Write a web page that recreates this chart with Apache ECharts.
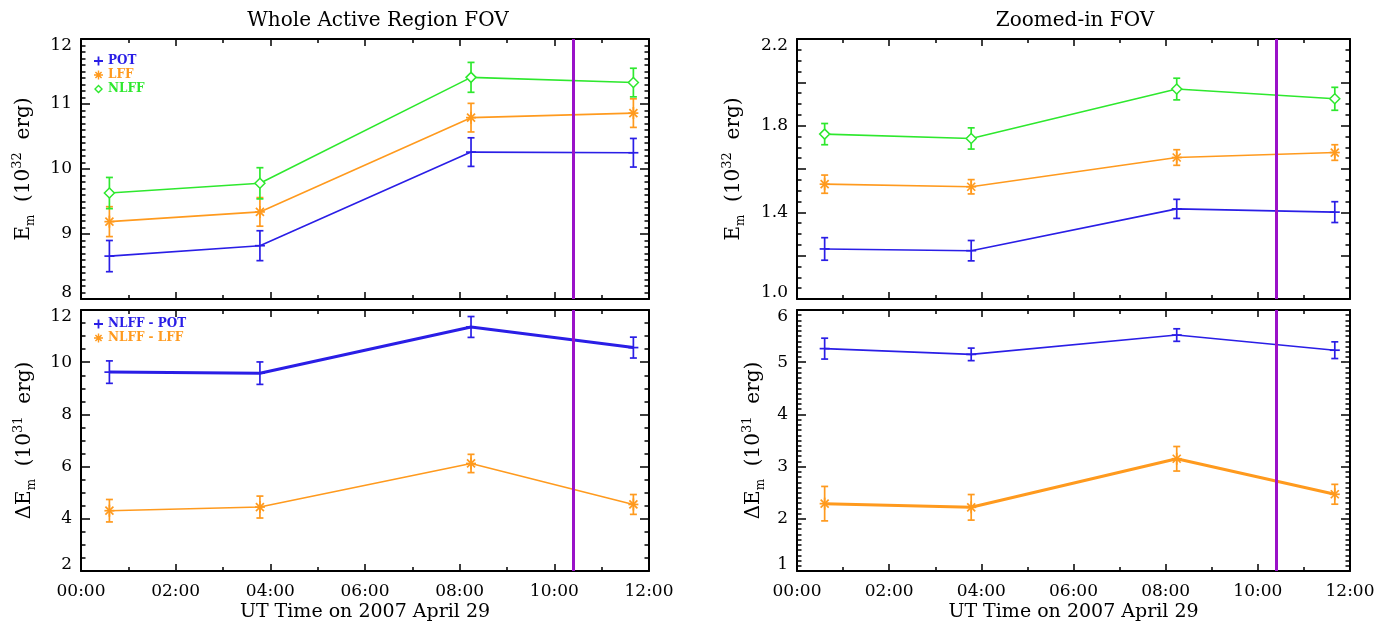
<!DOCTYPE html>
<html><head><meta charset="utf-8">
<script src="https://cdn.jsdelivr.net/npm/echarts@6/dist/echarts.min.js"></script>
<style>html,body{margin:0;padding:0;background:#fff}#c{width:1386px;height:623px}</style>
</head><body><div id="c"></div>
<script>
// ---- data ----
const times = [0.6, 3.78, 8.24, 11.67];          // hours UT
const flareTime = 10.41;                          // purple marker
const timeTicks = ['00:00','02:00','04:00','06:00','08:00','10:00','12:00'];

// Whole active region, 10^32 erg
const wholePot = [8.66, 8.82, 10.26, 10.25];
const wholePotErr = [0.24, 0.23, 0.22, 0.22];
const wholeLff = [9.19, 9.34, 10.79, 10.86];
const wholeLffErr = [0.23, 0.22, 0.22, 0.22];
const wholeNlff = [9.63, 9.78, 11.41, 11.33];
const wholeNlffErr = [0.24, 0.24, 0.23, 0.22];
// Whole active region differences, 10^31 erg
const wholeDiffPot = [9.62, 9.58, 11.35, 10.56];
const wholeDiffPotErr = [0.43, 0.43, 0.40, 0.40];
const wholeDiffLff = [4.31, 4.45, 6.12, 4.55];
const wholeDiffLffErr = [0.43, 0.42, 0.35, 0.38];
// Zoomed-in FOV, 10^32 erg
const zoomPot = [1.231, 1.223, 1.416, 1.401];
const zoomPotErr = [0.052, 0.047, 0.044, 0.048];
const zoomLff = [1.530, 1.518, 1.653, 1.676];
const zoomLffErr = [0.042, 0.033, 0.036, 0.036];
const zoomNlff = [1.761, 1.741, 1.969, 1.924];
const zoomNlffErr = [0.049, 0.049, 0.050, 0.053];
// Zoomed-in differences, 10^31 erg
const zoomDiffPot = [5.26, 5.15, 5.52, 5.23];
const zoomDiffPotErr = [0.20, 0.12, 0.12, 0.16];
const zoomDiffLff = [2.29, 2.22, 3.15, 2.47];
const zoomDiffLffErr = [0.33, 0.245, 0.235, 0.19];

// tick labels
const wholeTicks = ['8','9','10','11','12'];
const wholeDiffTicks = ['2','4','6','8','10','12'];
const zoomTicks = ['1.0','1.4','1.8','2.2'];
const zoomDiffTicks = ['1','2','3','4','5','6'];

const titles = ['Whole Active Region FOV', 'Zoomed-in FOV'];
const xTitle = 'UT Time on 2007 April 29';

// ---- style ----
const BLUE = '#2a1ee6', ORANGE = '#ff9a1e', GREEN = '#2ee82e', PURPLE = '#9a12c8';
const SERIF = 'DejaVu Serif';

const grids = [
  {left: 81, top: 39, width: 568, height: 260},
  {left: 81, top: 310, width: 568, height: 261},
  {left: 797, top: 39, width: 553, height: 260},
  {left: 797, top: 310, width: 553, height: 261}
];

const yName32 = '{e|E}{sub|m}{e|  (10}{sup|32}{e|  erg)}';
const yName31 = '{e|ΔE}{sub|m}{e|  (10}{sup|31}{e|  erg)}';
const panelY = [
  {min: 8, max: 12, interval: 1, minor: 10, ticks: wholeTicks, name: yName32, gap: 44},
  {min: 2, max: 12, interval: 2, minor: 4, ticks: wholeDiffTicks, name: yName31, gap: 43},
  {min: 1.0, max: 2.2, interval: 0.2, minor: 4, ticks: zoomTicks, name: yName32, gap: 50},
  {min: 1, max: 6, interval: 1, minor: 10, ticks: zoomDiffTicks, name: yName31, gap: 30}
];

function labelFor(list, v) {
  for (const s of list) if (Math.abs(parseFloat(s) - v) < 1e-6) return s;
  return '';
}

const axisLine = {show: true, onZero: false, lineStyle: {color: '#000', width: 2}};
const xAxes = [], yAxes = [];
grids.forEach((g, gi) => {
  const bottomPanel = gi === 1 || gi === 3;
  ['bottom', 'top'].forEach(pos => {
    const main = pos === 'bottom';
    xAxes.push({
      type: 'value', gridIndex: gi, position: pos, min: 0, max: 12, interval: 2,
      axisLine: axisLine,
      axisTick: {show: true, inside: true, length: 7, lineStyle: {color: '#000', width: 1.5}},
      minorTick: {show: true, splitNumber: 2, length: 4, lineStyle: {color: '#000', width: 1.5}},
      splitLine: {show: false}, minorSplitLine: {show: false},
      axisLabel: {show: main && bottomPanel, margin: 12, fontFamily: SERIF, fontSize: 17, color: '#000',
        formatter: v => timeTicks[Math.round(v / 2)] || ''},
      name: main && bottomPanel ? xTitle : '', nameLocation: 'middle', nameGap: 32,
      nameTextStyle: {fontFamily: SERIF, fontSize: 19, color: '#000'}
    });
  });
  const py = panelY[gi];
  ['left', 'right'].forEach(pos => {
    const main = pos === 'left';
    const lab = {fontFamily: SERIF, fontSize: 17, color: '#000'};
    yAxes.push({
      type: 'value', gridIndex: gi, position: pos, min: py.min, max: py.max, interval: py.interval,
      axisLine: axisLine,
      axisTick: {show: true, inside: true, length: 9, lineStyle: {color: '#000', width: 1.5}},
      minorTick: {show: true, splitNumber: py.minor, length: 4.5, lineStyle: {color: '#000', width: 1.5}},
      splitLine: {show: false}, minorSplitLine: {show: false},
      axisLabel: {show: main, margin: 9, fontFamily: SERIF, fontSize: 17, color: '#000',
        formatter: v => {
          const s = labelFor(py.ticks, v);
          if (!s) return '';
          if (Math.abs(v - py.max) < 1e-6) return '{t|' + s + '}';
          if (Math.abs(v - py.min) < 1e-6) return '{b|' + s + '}';
          return s;
        },
        rich: {t: Object.assign({padding: [14, 0, 0, 0]}, lab), b: Object.assign({padding: [0, 0, 12, 0]}, lab)}
      },
      name: main ? py.name : '', nameLocation: 'middle', nameRotate: 90, nameGap: py.gap,
      nameTextStyle: {
        rich: {
          e: {fontFamily: SERIF, fontSize: 20, color: '#000', lineHeight: 26},
          sub: {fontFamily: SERIF, fontSize: 12, color: '#000', verticalAlign: 'bottom'},
          sup: {fontFamily: SERIF, fontSize: 13, color: '#000', verticalAlign: 'top'}
        }
      }
    });
  });
});

function lineSeries(name, vals, color, width, gi, withFlare) {
  const s = {
    type: 'line', name, xAxisIndex: gi * 2, yAxisIndex: gi * 2,
    data: times.map((t, i) => [t, vals[i]]),
    symbol: 'none', lineStyle: {color, width}, itemStyle: {color}, z: 3, silent: true
  };
  if (withFlare) {
    s.markLine = {symbol: 'none', silent: true, z: 10, label: {show: false},
      lineStyle: {color: PURPLE, width: 3, type: 'solid'}, data: [{xAxis: flareTime}]};
  }
  return s;
}

function markerSeries(name, vals, errs, color, shape, gi) {
  return {
    type: 'custom', name, xAxisIndex: gi * 2, yAxisIndex: gi * 2, z: 4, silent: true,
    itemStyle: {color},
    data: times.map((t, i) => [t, vals[i], vals[i] - errs[i], vals[i] + errs[i]]),
    encode: {x: 0, y: [1, 2, 3]},
    renderItem(params, api) {
      const c = api.coord([api.value(0), api.value(1)]);
      const lo = api.coord([api.value(0), api.value(2)]);
      const hi = api.coord([api.value(0), api.value(3)]);
      const x = c[0], y = c[1], cap = 3.5, s = 5;
      const st = {stroke: color, lineWidth: 1.7, fill: null};
      const ch = [
        {type: 'line', shape: {x1: x, y1: lo[1], x2: x, y2: hi[1]}, style: st},
        {type: 'line', shape: {x1: x - cap, y1: lo[1], x2: x + cap, y2: lo[1]}, style: st},
        {type: 'line', shape: {x1: x - cap, y1: hi[1], x2: x + cap, y2: hi[1]}, style: st}
      ];
      if (shape === 'plus') {
        ch.push({type: 'line', shape: {x1: x - s, y1: y, x2: x + s, y2: y}, style: st});
      } else if (shape === 'star') {
        const d = s * 0.8;
        ch.push({type: 'line', shape: {x1: x - s, y1: y, x2: x + s, y2: y}, style: st});
        ch.push({type: 'line', shape: {x1: x, y1: y - s - 1, x2: x, y2: y + s + 1}, style: st});
        ch.push({type: 'line', shape: {x1: x - d, y1: y - d, x2: x + d, y2: y + d}, style: st});
        ch.push({type: 'line', shape: {x1: x - d, y1: y + d, x2: x + d, y2: y - d}, style: st});
      } else {
        ch.push({type: 'polygon', shape: {points: [[x, y - s], [x + s, y], [x, y + s], [x - s, y]]},
          style: {stroke: color, lineWidth: 1.5, fill: '#fff'}});
      }
      return {type: 'group', children: ch};
    }
  };
}

const panelsSeries = [
  {gi: 0, list: [
    ['POT', wholePot, wholePotErr, BLUE, 'plus', 1.6],
    ['LFF', wholeLff, wholeLffErr, ORANGE, 'star', 1.6],
    ['NLFF', wholeNlff, wholeNlffErr, GREEN, 'diamond', 1.6]]},
  {gi: 1, list: [
    ['NLFF - POT', wholeDiffPot, wholeDiffPotErr, BLUE, 'plus', 3],
    ['NLFF - LFF', wholeDiffLff, wholeDiffLffErr, ORANGE, 'star', 1.6]]},
  {gi: 2, list: [
    ['POT', zoomPot, zoomPotErr, BLUE, 'plus', 1.6],
    ['LFF', zoomLff, zoomLffErr, ORANGE, 'star', 1.6],
    ['NLFF', zoomNlff, zoomNlffErr, GREEN, 'diamond', 1.6]]},
  {gi: 3, list: [
    ['NLFF - POT', zoomDiffPot, zoomDiffPotErr, BLUE, 'plus', 1.6],
    ['NLFF - LFF', zoomDiffLff, zoomDiffLffErr, ORANGE, 'star', 3]]}
];

const series = [];
panelsSeries.forEach(p => {
  p.list.forEach((d, k) => {
    series.push(lineSeries(d[0], d[1], d[3], d[5], p.gi, k === p.list.length - 1));
    series.push(markerSeries(d[0], d[1], d[2], d[3], d[4], p.gi));
  });
});

const ICON_PLUS = 'path://M4,0H6V4H10V6H6V10H4V6H0V4H4Z';
const ICON_STAR = 'path://M4.2,0H5.8V10H4.2Z M0,4.2H10V5.8H0Z M1,2.2L2.2,1L9,7.8L7.8,9Z M7.8,1L9,2.2L2.2,9L1,7.8Z';
const ICON_DIAM = 'path://M5,0L10,5L5,10L0,5Z M5,2.2L2.2,5L5,7.8L7.8,5Z';
const legText = {fontFamily: SERIF, fontWeight: 'bold', fontSize: 12, lineHeight: 12};
function legItem(name, icon, color) {
  return {name, icon, itemStyle: {color}, textStyle: {color}};
}

const option = {
  animation: false,
  backgroundColor: '#fff',
  title: [
    {text: titles[0], left: 373, top: 6, textAlign: 'center',
      textStyle: {fontFamily: SERIF, fontSize: 20, fontWeight: 'normal', color: '#000'}},
    {text: titles[1], left: 1070, top: 6, textAlign: 'center',
      textStyle: {fontFamily: SERIF, fontSize: 20, fontWeight: 'normal', color: '#000'}}
  ],
  legend: [
    {left: 94, top: 55, orient: 'vertical', itemGap: 2, itemWidth: 9, itemHeight: 9, padding: 0,
      selectedMode: false, textStyle: legText,
      data: [legItem('POT', ICON_PLUS, BLUE), legItem('LFF', ICON_STAR, ORANGE), legItem('NLFF', ICON_DIAM, GREEN)]},
    {left: 94, top: 318, orient: 'vertical', itemGap: 2, itemWidth: 9, itemHeight: 9, padding: 0,
      selectedMode: false, textStyle: legText,
      data: [legItem('NLFF - POT', ICON_PLUS, BLUE), legItem('NLFF - LFF', ICON_STAR, ORANGE)]}
  ],
  grid: grids,
  xAxis: xAxes,
  yAxis: yAxes,
  series: series
};

const chart = echarts.init(document.getElementById('c'), null, {renderer: 'canvas'});
chart.setOption(option);
</script>
</body></html>
